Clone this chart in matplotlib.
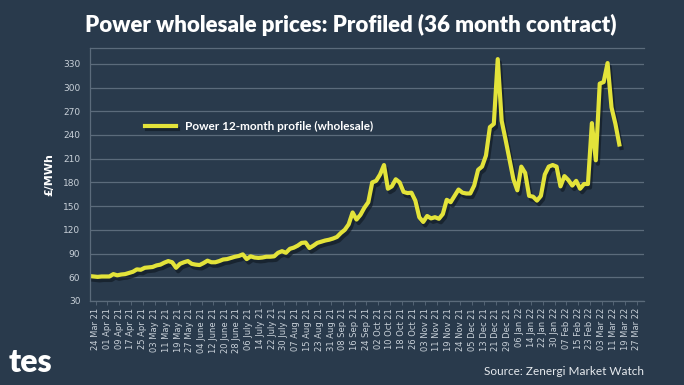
import matplotlib.pyplot as plt
import matplotlib.patheffects as pe
import numpy as np

# points per label interval on the category axis
PTS = 3

labels = [
    "24 Mar 21", "01 Apr 21", "09 Apr 21", "17 Apr 21", "25 Apr 21", "03 May 21",
    "11 May 21", "19 May 21", "27 May 21", "04 June 21", "12 June 21", "20 June 21",
    "28 June 21", "06 July 21", "14 July 21", "22 July 21", "30 July 21", "07 Aug 21",
    "15 Aug 21", "23 Aug 21", "31 Aug 21", "08 Sep 21", "16 Sep 21", "24 Sep 21",
    "02 Oct 21", "10 Oct 21", "18 Oct 21", "26 Oct 21", "03 Nov 21", "11 Nov 21",
    "19 Nov 21", "24 Nov 21", "05 Dec 21", "13 Dec 21", "21 Dec 21", "29 Dec 21",
    "06 Jan 22", "14 Jan 22", "22 Jan 22", "30 Jan 22", "07 Feb 22", "15 Feb 22",
    "23 Feb 22", "03 Mar 22", "11 Mar 22", "19 Mar 22", "27 Mar 22",
]

prices = [
    61.5, 61, 60.5, 61, 61, 61, 64, 62.5, 63.5, 64,
    65.5, 67, 70, 69.5, 72, 72.5, 73, 75, 76, 78.5,
    80.5, 79, 72, 77, 79, 80.5, 77, 76, 75.5, 78,
    81, 79, 79, 80.5, 82.5, 83, 84.5, 86, 87, 89,
    83, 86.5, 85, 84.5, 85, 86, 86, 86.5, 91, 93,
    91, 96, 97.5, 100, 103.5, 104, 97, 100, 103.5, 105,
    106.5, 107.5, 109, 111, 116, 120, 127, 142, 133, 139,
    148, 155, 180, 182, 190, 202, 172, 175, 184, 180,
    168, 166.5, 167, 157, 136, 130, 137.5, 134.5, 136, 134,
    140, 158, 155, 163, 171, 167, 166, 166, 176, 196,
    200, 214, 250, 254, 336, 258, 234, 209, 184, 170,
    200, 192, 163, 162, 157, 163, 190, 200, 202, 200,
    175, 188, 183, 176, 182, 172, 178, 178, 255, 208,
    305, 307, 331, 275, 254, 228,
]

series_name = "Power 12-month profile (wholesale)"

bg = "#293a4c"
grid_col = "#5b6b7b"
line_col = "#e3e33a"
tick_col = "#c9d1d9"

fig = plt.figure(figsize=(6.84, 3.85), dpi=100, facecolor=bg)
ax = fig.add_axes([0.1316, 0.2182, 0.81, 0.657])
ax.set_facecolor(bg)

x = np.arange(len(prices)) / PTS - 0.5
ax.plot(x, prices, color=line_col, lw=3, solid_joinstyle="round",
        label=series_name,
        path_effects=[pe.SimpleLineShadow(offset=(1.5, -2.5), shadow_color="#121b25", alpha=0.7),
                      pe.Normal()])

ax.set_ylim(30, 350)
ax.set_xlim(-0.48, 46.6)
ax.set_yticks(np.arange(30, 331, 30))
ax.set_xticks(range(len(labels)))
ax.set_xticklabels(labels, rotation=90)
ax.grid(axis="y", color=grid_col, lw=0.9)
ax.set_axisbelow(True)

ax.spines["right"].set_visible(False)
for s in ["left", "bottom", "top"]:
    ax.spines[s].set_color(grid_col)
    ax.spines[s].set_linewidth(0.9)

ax.tick_params(axis="x", colors=tick_col, labelsize=6, length=3, width=0.6, color=grid_col, pad=2)
ax.tick_params(axis="y", colors=tick_col, labelsize=6.5, length=0, pad=7)

ax.set_ylabel("£/MWh", color="white", fontsize=8, fontweight="bold", labelpad=6)

leg = ax.legend(loc="upper left", bbox_to_anchor=(0.08, 0.755), frameon=False,
                handlelength=2.6, fontsize=8.5)
for t in leg.get_texts():
    t.set_color("white")
    t.set_fontweight("bold")
    t.set_family("Lato")

fig.text(0.513, 0.935, "Power wholesale prices: Profiled (36 month contract)",
         color="white", fontsize=16, fontweight="heavy", family="Lato",
         ha="center", va="center")
fig.text(0.013, 0.058, "tes", color="white", fontsize=23, fontweight="heavy",
         family="Lato", ha="left", va="center")
fig.text(0.942, 0.035, "Source: Zenergi Market Watch", color="#e6eaee", fontsize=8.5,
         family="Lato", ha="right", va="center")

fig.savefig("out.png", dpi=100, facecolor=bg)
